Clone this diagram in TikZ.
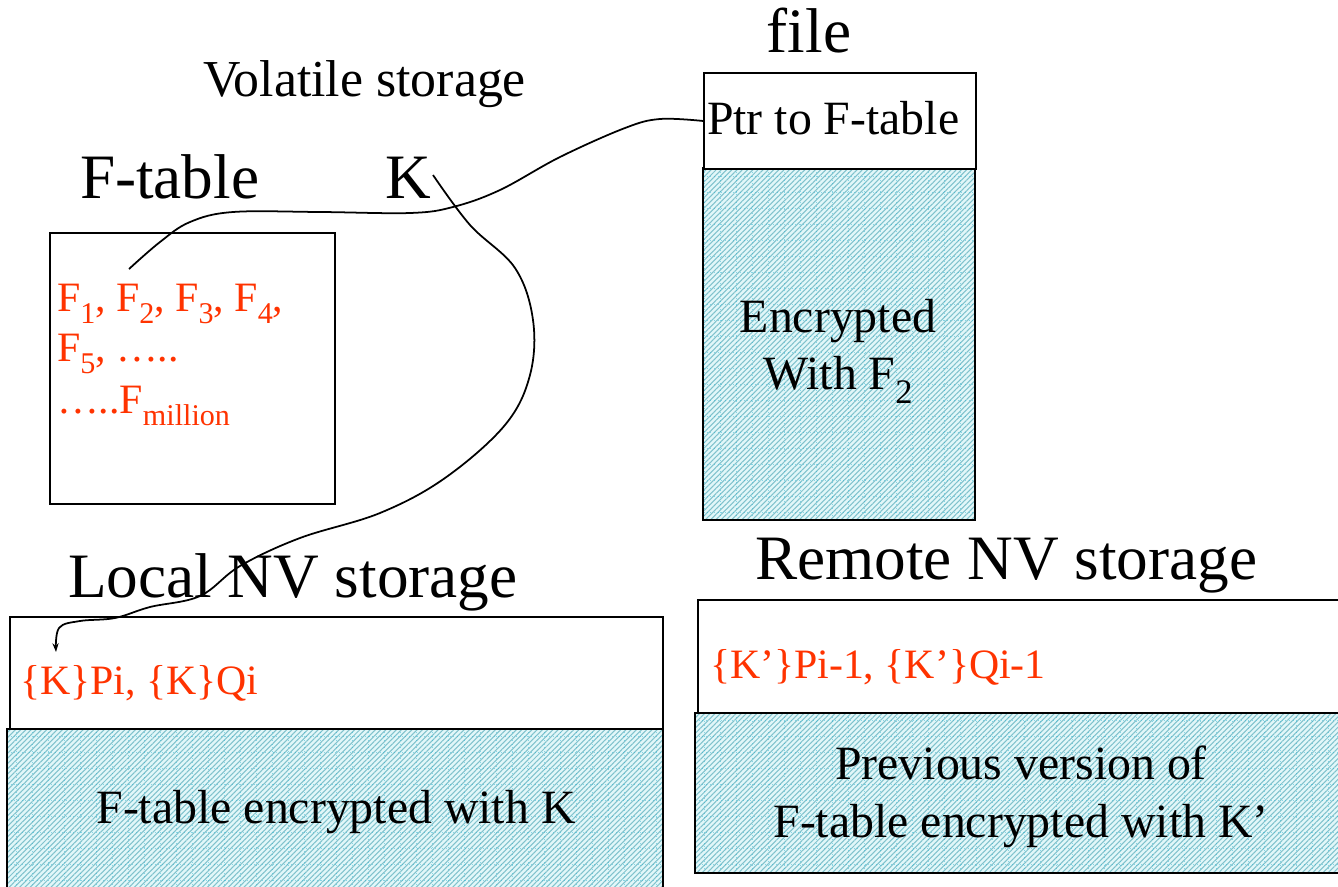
\documentclass[tikz,border=0pt]{standalone}
\usepackage{fontspec}
\setmainfont{Liberation Serif}
\usetikzlibrary{patterns.meta,arrows.meta}

\definecolor{keyred}{RGB}{255,51,0}
\definecolor{hatchbg}{RGB}{226,247,249}
\definecolor{hatchln}{RGB}{128,194,204}
\definecolor{gridln}{RGB}{40,180,210}

% lowered, reduced index (F_1, F_million, ...)
\newcommand\lowsub[1]{\raisebox{-0.3em}{\scalebox{0.72}{#1}}}

% encrypted (hatched) region with its faint dotted grid and border
\newcommand\cipherrect[2]{%
  \fill[hatchbg] #1 rectangle #2;
  \fill[pattern={Lines[angle=45,distance=2.1pt,line width=0.6pt]},pattern color=hatchln] #1 rectangle #2;
  \begin{scope}
    \clip #1 rectangle #2;
    \draw[gridln,line width=0.3pt,dash pattern=on 0.5pt off 1.6pt,opacity=0.5,step=0.32cm] #1 grid #2;
  \end{scope}
  \draw[box] #1 rectangle #2;}

\tikzset{
  box/.style={draw=black,line width=1.1pt},
  thinbox/.style={draw=black,line width=0.85pt},
  lbl/.style={inner sep=0pt,outer sep=0pt,anchor=base west},
  biglbl/.style={lbl,font=\fontsize{36pt}{40pt}\selectfont},
  midlbl/.style={lbl,font=\fontsize{29.5pt}{34pt}\selectfont},
  boxlbl/.style={lbl,font=\fontsize{27.2pt}{32pt}\selectfont},
  keylbl/.style={lbl,text=keyred,font=\fontsize{23.8pt}{28pt}\selectfont},
  wire/.style={draw=black,line width=1pt},
}

\begin{document}
\begin{tikzpicture}[x=0.02cm,y=-0.02cm]
\clip (0,0) rectangle (1338,886);
\fill[white] (0,0) rectangle (1338,886);

% ---- file: pointer header and encrypted body
\cipherrect{(703,168)}{(975,520)}
\node[box,fill=white,anchor=north west,minimum width=272*0.02cm,minimum height=96*0.02cm,inner sep=0pt] (filetop) at (703,72) {};
\node[biglbl,anchor=base] (filelbl) at (809,52) {file};
\node[boxlbl] (ptr) at (707,134) {Ptr to F-table};
\node[boxlbl,anchor=base] (enc1) at (838,332) {Encrypted};
\node[boxlbl,anchor=base] (enc2) at (838,389) {With F\lowsub{2}};

% ---- volatile storage
\node[midlbl] (vol) at (203,96) {Volatile storage};
\node[biglbl] (ftlbl) at (80,198) {F-table};
\node[biglbl] (klbl) at (385,198) {K};
\draw[thinbox] (50,233) rectangle (335,504);
\node[keylbl] (row1) at (57,311) {F\lowsub{1}, F\lowsub{2}, F\lowsub{3}, F\lowsub{4},};
\node[keylbl] (row2) at (57,361) {F\lowsub{5}, …..};
\node[keylbl] (row3) at (57,413) {…..F\lowsub{million}};

% ---- local non-volatile storage
\node[biglbl] (loclbl) at (68,597) {Local NV storage};
\draw[box] (10,617) rectangle (663,729);
\cipherrect{(7,729)}{(663,892)}
\node[keylbl] (lockeys) at (20,694) {\{K\}Pi, \{K\}Qi};
\node[boxlbl,anchor=base] (locenc) at (336,823) {F-table encrypted with K};

% ---- remote non-volatile storage
\node[biglbl] (remlbl) at (755,579) {Remote NV storage};
\draw[box] (698,600) rectangle (1345,713);
\cipherrect{(695,713)}{(1345,873)}
\node[keylbl] (remkeys) at (710,678) {\{K’\}Pi-1, \{K’\}Qi-1};
\node[boxlbl,anchor=base] (remenc1) at (1021,779) {Previous version of};
\node[boxlbl,anchor=base] (remenc2) at (1021,837) {F-table encrypted with K’};

% ---- hand-drawn connectors
\coordinate (f2tip) at (129,269);
\coordinate (ktail) at (433,175);
\coordinate (kptr) at (56,652);

\draw[wire] plot[smooth,tension=0.6] coordinates {
  (filetop.west) (660,119) (625,128) (560,157) (500,190)
  (453,207) (410,213) (320,212) (233,212)
  (190,222) (160,242) (f2tip)};

\draw[wire,-{Stealth[length=5pt,width=3.5pt]}] plot[smooth,tension=0.6] coordinates {
  (ktail) (470,225) (515,268) (533,320) (530,375)
  (505,425) (445,478) (380,513) (300,538)
  (240,566) (200,596) (150,607) (115,618)
  (80,621) (59,628) (kptr)};
\end{tikzpicture}
\end{document}
